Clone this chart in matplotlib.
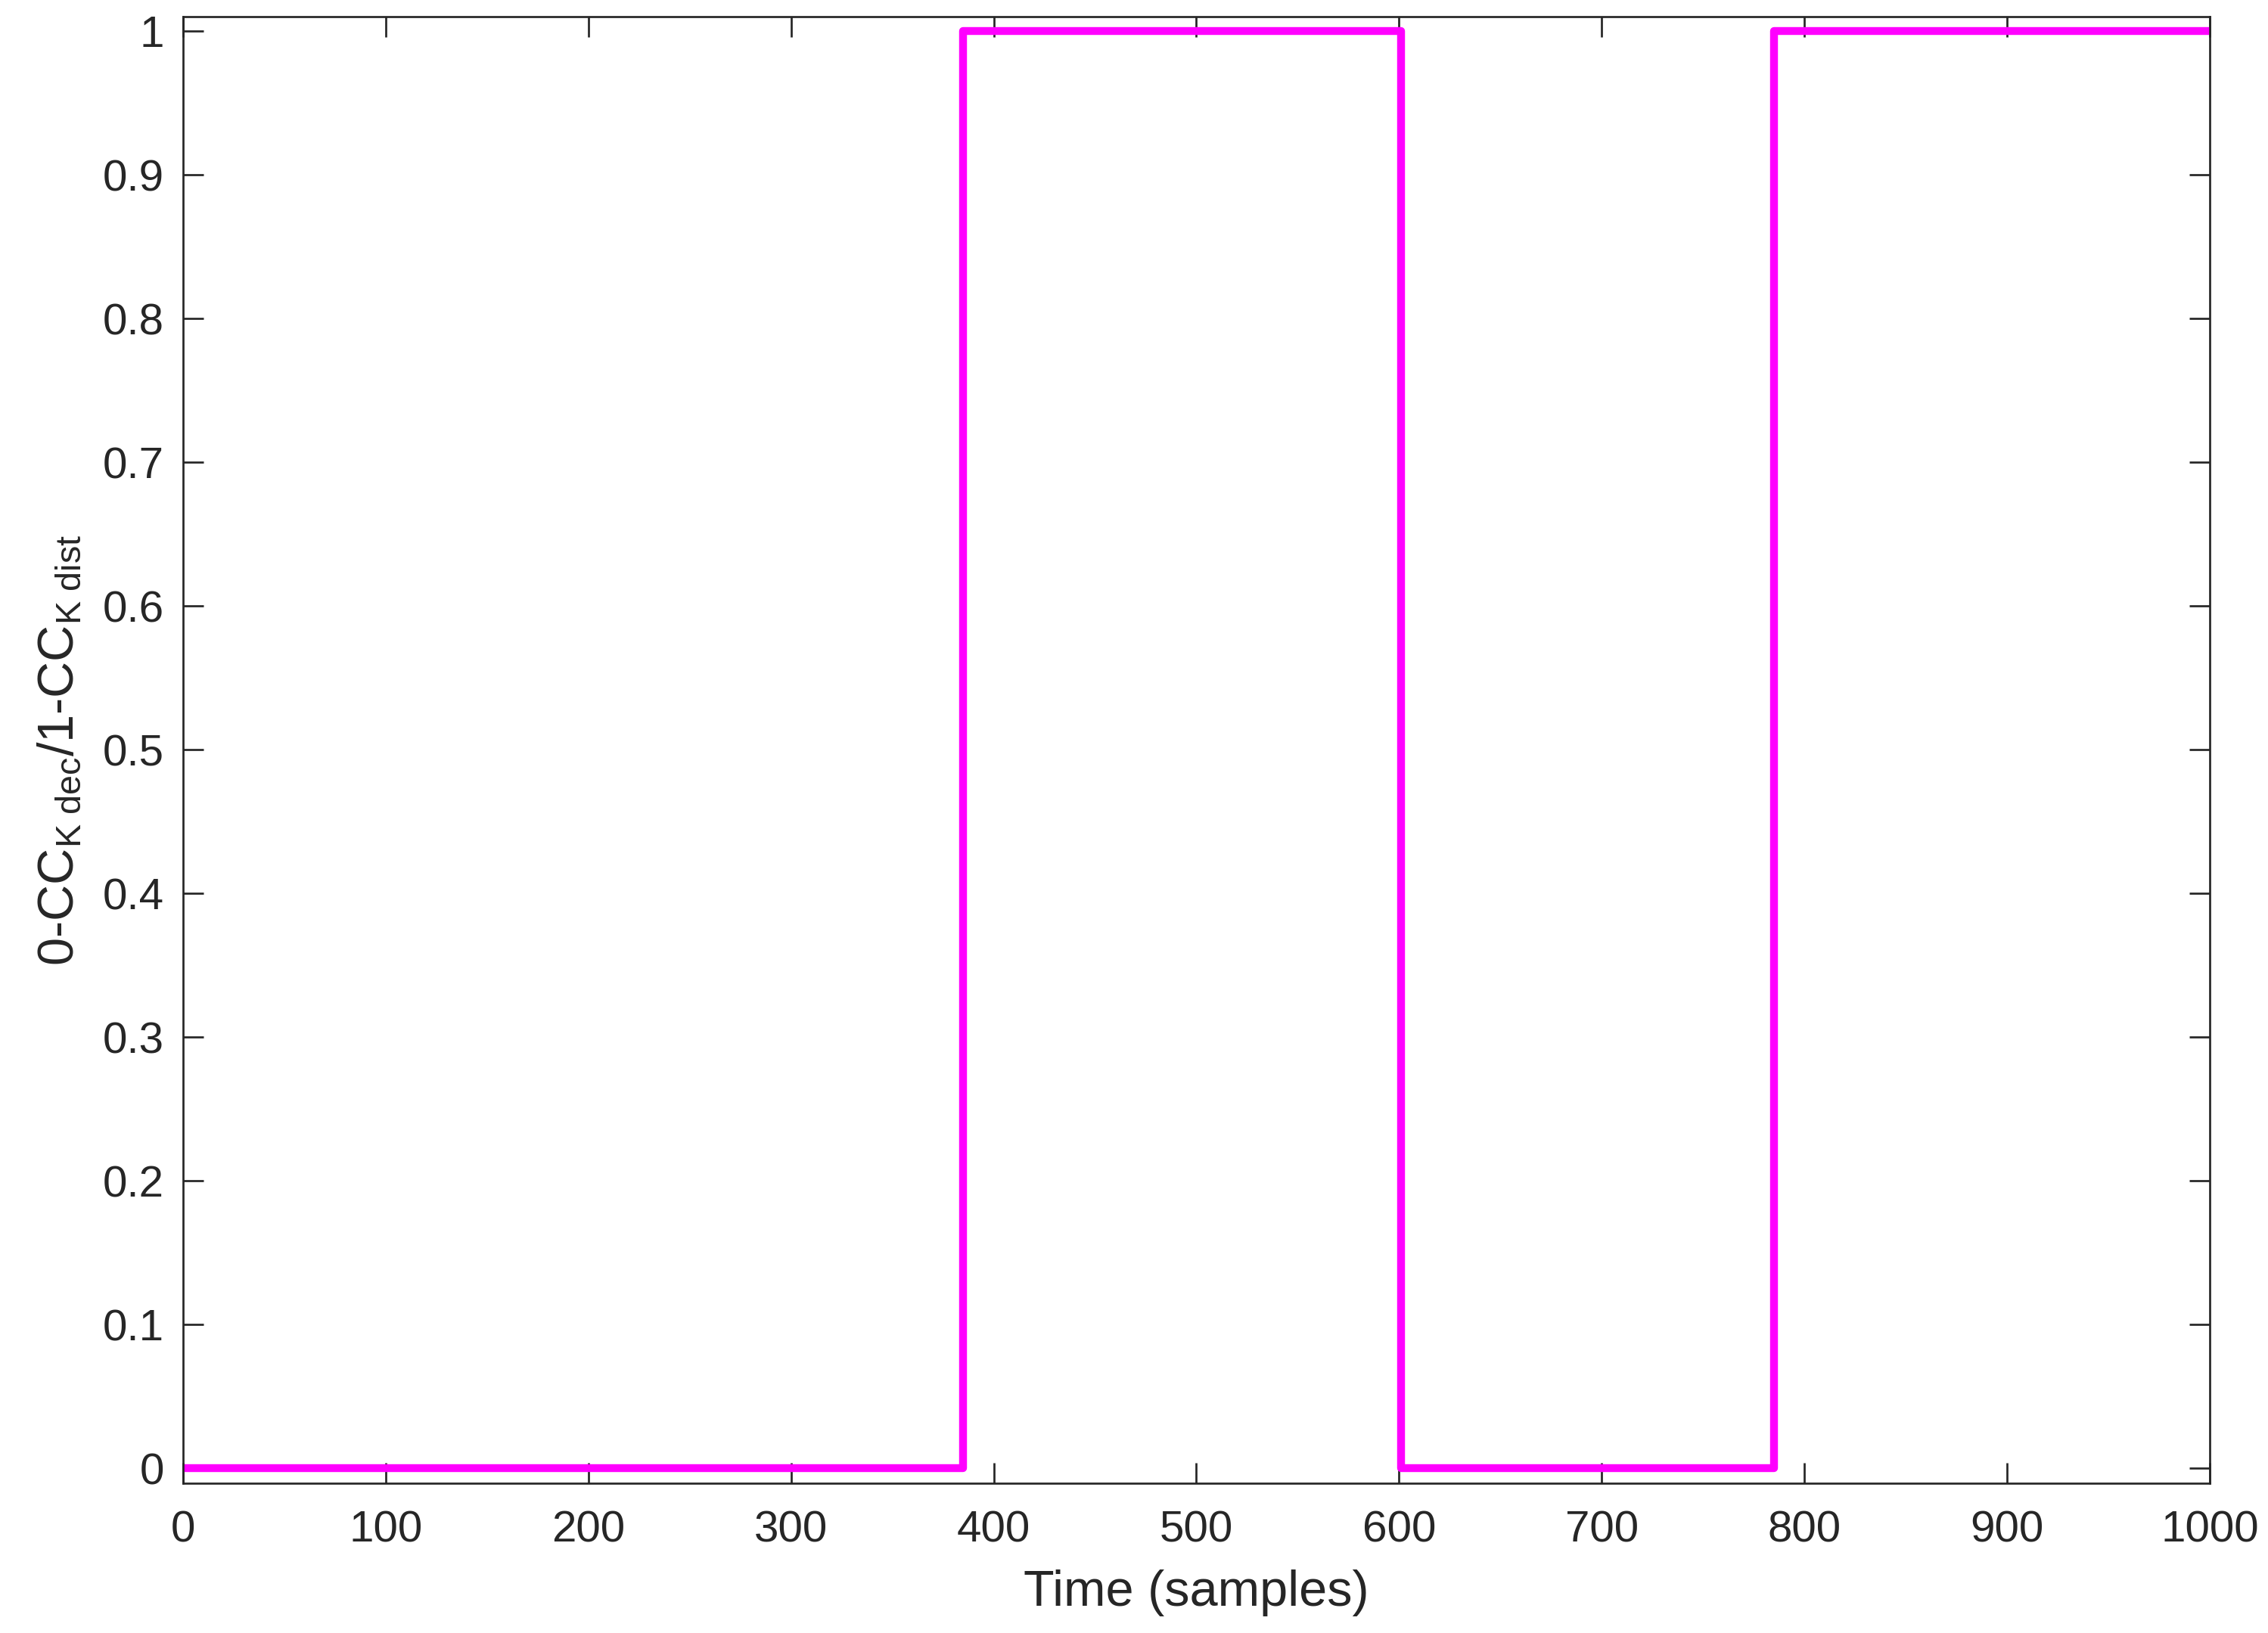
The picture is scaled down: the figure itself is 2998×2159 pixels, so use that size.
import matplotlib
matplotlib.use('Agg')
import matplotlib.pyplot as plt
import numpy as np

# step signal (switch times in samples)
switch_t = [0, 385, 601, 785, 1000]
state = [0, 1, 0, 1, 1]

xticks = np.arange(0, 1001, 100)
yticks = np.arange(0, 1.01, 0.1)

plt.rcParams['font.family'] = ['Liberation Sans', 'DejaVu Sans']
plt.rcParams['mathtext.fontset'] = 'custom'
plt.rcParams['mathtext.rm'] = 'Liberation Sans'
plt.rcParams['mathtext.it'] = 'Liberation Sans'

axcol = '#262626'

fig = plt.figure(figsize=(2998/300, 2159/300), dpi=300)
ax = fig.add_axes([0.0807, 0.0917, 0.8936, 0.8981])

ax.step(switch_t, state, where='post', color='#ff00ff', linewidth=2.5)

ax.set_xlim(0, 1000)
ax.set_ylim(-0.0105, 1.01)
ax.set_xticks(xticks)
ax.set_yticks(yticks)
ax.set_yticklabels(['0'] + ['%.1f' % v for v in yticks[1:-1]] + ['1'])

ax.tick_params(direction='in', top=True, right=True, length=6.5, width=0.65,
               colors=axcol, labelsize=14)
ax.tick_params(axis='x', pad=8.5)
ax.tick_params(axis='y', pad=6)
for s in ax.spines.values():
    s.set_color(axcol)
    s.set_linewidth(0.65)

ax.set_xlabel('Time (samples)', fontsize=16, color=axcol, labelpad=6)
ax.set_ylabel(r'0-CC$_{\mathrm{K\ dec}}$/1-CC$_{\mathrm{K\ dist}}$', fontsize=16,
              color=axcol, labelpad=6)

plt.savefig('out.png', dpi=300)
